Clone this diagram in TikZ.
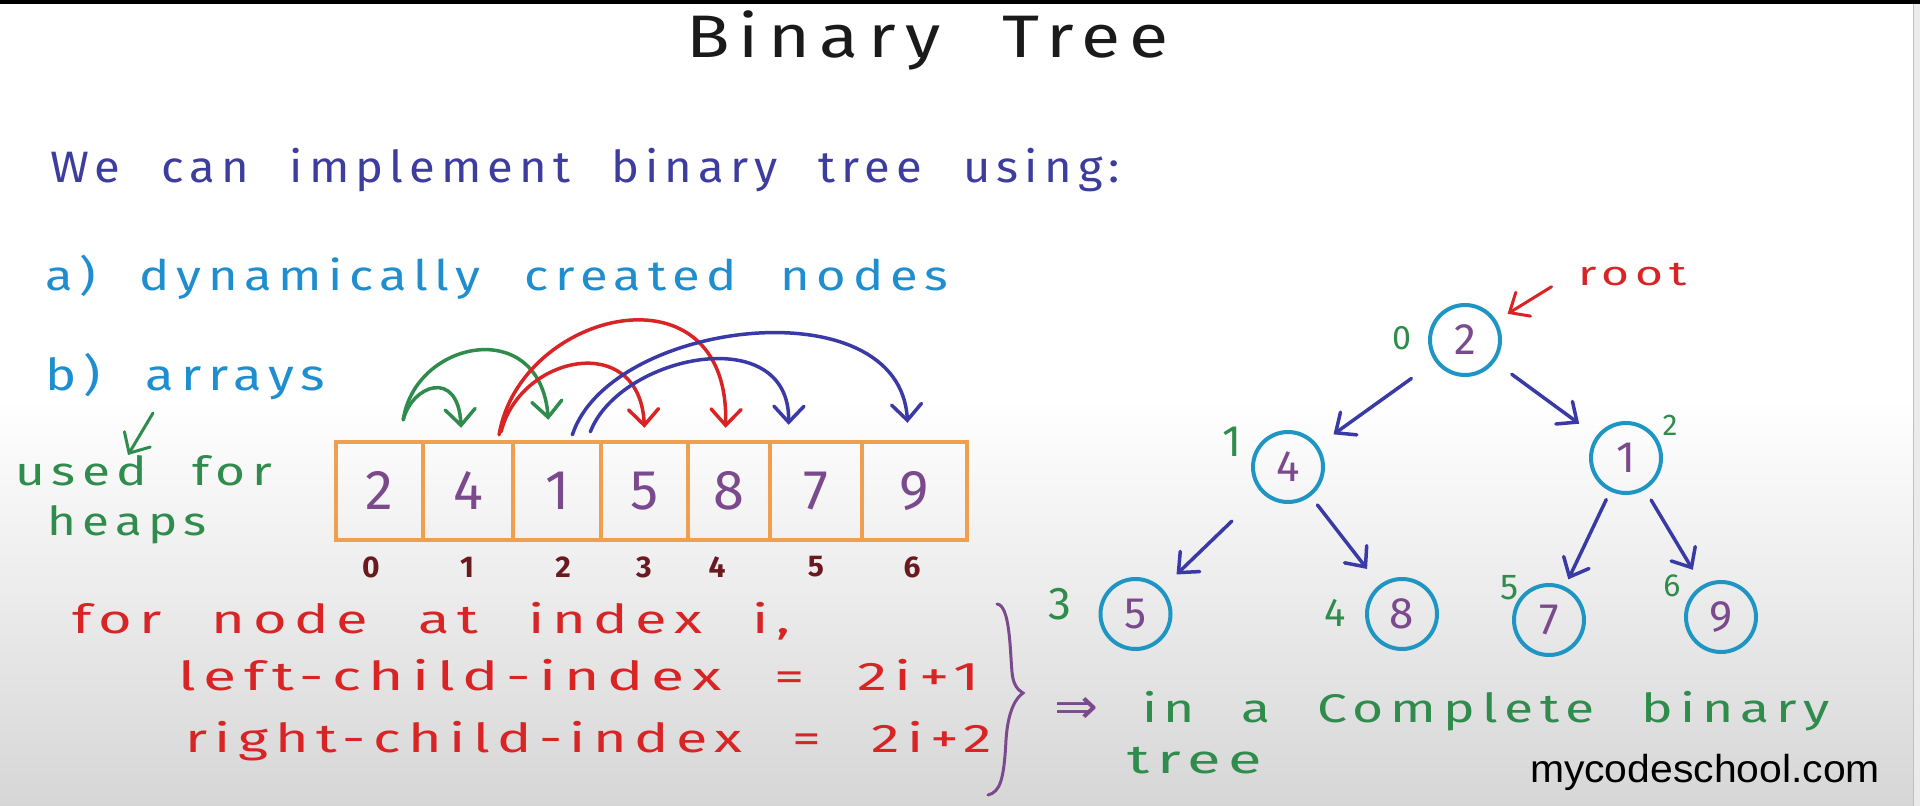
\documentclass[tikz,border=0pt]{standalone}
\usepackage{fontspec}
\usepackage{graphicx}
\setmainfont{Fira Sans}[LetterSpace=13,WordSpace=2.2]
\newfontfamily\wmfont{Liberation Sans}
\newfontfamily\digfont{Fira Sans}
\newfontfamily\symf{DejaVu Sans}
\usetikzlibrary{arrows.meta,calc}
\definecolor{ink}{HTML}{1A1A1A}
\definecolor{navy}{HTML}{3D3D9E}
\definecolor{cyanb}{HTML}{1F8ECF}
\definecolor{grn}{HTML}{2F8C4C}
\definecolor{org}{HTML}{EFA04E}
\definecolor{purp}{HTML}{7B4A8C}
\definecolor{maroon}{HTML}{6A1A1E}
\definecolor{redi}{HTML}{D82424}
\definecolor{circ}{HTML}{1E95C2}
\definecolor{edgeb}{HTML}{3A3AA6}
\newcommand{\fs}[1]{\fontsize{#1}{#1}\selectfont}
\newcommand{\hw}[3]{\resizebox{#1pt}{\height}{\fs{#2}#3}}
\begin{document}
\begin{tikzpicture}[x=1pt,y=-1pt,
  txt/.style={anchor=base west,inner sep=0pt,outer sep=0pt},
  cell/.style={draw=org,line width=4pt,minimum height=98pt,inner sep=0pt,text=purp,font=\digfont\fs{56}},
  tnode/.style={circle,draw=circ,line width=4pt,minimum size=70pt,inner sep=0pt,text=purp,font=\digfont\fs{44}},
  idx/.style={inner sep=0pt,text=maroon,font=\digfont\bfseries\fs{30}},
  tidx/.style={inner sep=0pt,text=grn},
  arr/.style={line width=3.5pt,line cap=round,-{Straight Barb[length=16pt,width=30pt,line cap=round]}},
  tarr/.style={line width=3.5pt,line cap=round,-{Straight Barb[length=16pt,width=28pt,line cap=round]}}
]
\useasboundingbox (0,0) rectangle (1920,806);
% background
\fill[white] (0,0) rectangle (1920,806);
\shade[top color=white,bottom color=black!16] (0,400) rectangle (1920,806);
\fill[black] (0,0) rectangle (1920,4);
\fill[black!8] (1913,4) rectangle (1920,806);
\draw[black!25,line width=1pt] (1913,4) -- (1913,806);

% texts
\node[txt,text=ink] (title) at (686,57) {\hw{483}{60}{Binary Tree}};
\node[txt,text=navy] (line1) at (50,182) {\hw{1070}{44}{We can implement binary tree using:}};
\node[txt,text=cyanb] (opta) at (45,290) {\hw{903}{42}{a) dynamically created nodes}};
\node[txt,text=cyanb] (optb) at (45,390) {\hw{280}{44}{b) arrays}};
\node[txt,text=grn] (used) at (15,485) {\hw{257}{40}{used for}};
\node[txt,text=grn] (heaps) at (47,535) {\hw{160}{40}{heaps}};
\draw[arr,grn,line width=3pt] ($(optb.base west)+(108,23)$) -- ($(used.base west)+(113,-30)$);

% array
\node[cell,minimum width=87.1pt] (c0) at (379.25,490.8) {\raisebox{-6pt}{2}};
\node[cell,minimum width=90.6pt] (c1) at (468.1,490.8) {\raisebox{-6pt}{4}};
\node[cell,minimum width=87.9pt] (c2) at (557.35,490.8) {\raisebox{-6pt}{1}};
\node[cell,minimum width=86.2pt] (c3) at (644.4,490.8) {\raisebox{-6pt}{5}};
\node[cell,minimum width=82.1pt] (c4) at (728.55,490.8) {\raisebox{-6pt}{8}};
\node[cell,minimum width=92pt] (c5) at (815.6,490.8) {\raisebox{-6pt}{7}};
\node[cell,minimum width=105.8pt] (c6) at (914.5,490.8) {\raisebox{-6pt}{9}};

\node[idx] (a0) at (371,567) {0};
\node[idx] (a1) at (467,567) {1};
\node[idx] (a2) at (563,567) {2};
\node[idx] (a3) at (644,567) {3};
\node[idx] (a4) at (717,567) {4};
\node[idx] (a5) at (816,567) {5};
\node[idx] (a6) at (912,567) {6};

% arcs over the array
\draw[arr,grn] ($(c0.north)+(24,-20)$) .. controls (412,385) and (458,368) .. ($(c1.north)+(-7,-12)$);
\draw[arr,grn] ($(c0.north)+(24,-20)$) .. controls (415,340) and (540,315) .. ($(c2.north)+(-9,-20)$);
\draw[arr,redi] ($(c1.north)+(31,-5)$) .. controls (520,310) and (730,260) .. ($(c4.north)+(-3,-12)$);
\draw[arr,redi] ($(c1.north)+(33,-8)$) .. controls (520,355) and (640,330) .. ($(c3.north)+(0,-12)$);
\draw[arr,edgeb] ($(c2.north)+(15,-5)$) .. controls (610,320) and (900,285) .. ($(c6.north)+(-7,-17)$);
\draw[arr,edgeb] ($(c2.north)+(33,-8)$) .. controls (620,355) and (790,320) .. ($(c5.north)+(-27,-15)$);

% tree
\node[tnode] (root) at (1465,340) {2};
\node[tnode] (n4) at (1288,467) {4};
\node[tnode] (n1) at (1626,458) {1};
\node[tnode] (n5) at (1135.5,614) {5};
\node[tnode] (n8) at (1402,614) {8};
\node[tnode] (n7) at (1549,620) {7};
\node[tnode] (n9) at (1721,617) {9};

\draw[tarr,edgeb,shorten <=29pt,shorten >=19pt] (root) -- (n4);
\draw[tarr,edgeb,shorten <=21pt,shorten >=21pt] (root) -- (n1);
\draw[tarr,edgeb,shorten <=41pt,shorten >=20pt] (n4) -- (n5);
\draw[tarr,edgeb,shorten <=11pt,shorten >=20pt] (n4) -- (n8);
\draw[tarr,edgeb,shorten <=9pt,shorten >=8pt] (n1) -- (n7);
\draw[tarr,edgeb,shorten <=12pt,shorten >=18pt] (n1) -- (n9);

\node[tidx,font=\digfont\fs{34}] (l0) at (1402,338) {0};
\node[tidx,font=\digfont\fs{44}] (l1) at (1232,442) {1};
\node[tidx,font=\digfont\fs{30}] (l2) at (1670,425) {2};
\node[tidx,font=\digfont\fs{46}] (l3) at (1060,604) {3};
\node[tidx,font=\digfont\fs{40}] (l4) at (1335,613) {4};
\node[tidx,font=\digfont\fs{36}] (l5) at (1510,588) {5};
\node[tidx,font=\digfont\fs{32}] (l6) at (1672,586) {6};

\node[txt,text=redi] (rootlbl) at (1578,285) {\hw{109}{34}{root}};
\coordinate (rs) at (1551.6,286.7);
\draw[tarr,redi,line width=3pt,shorten >=13pt] (rs) -- (root);

% formulas
\node[txt,text=redi] (f1) at (72,633) {\hw{718}{40}{for node at index i,}};
\node[txt,text=redi] (f2) at (178,690) {\hw{802}{40}{left-child-index = 2i+1}};
\node[txt,text=redi] (f3) at (185,752) {\hw{807}{40}{right-child-index = 2i+2}};

% brace
\draw[purp,line width=3pt,line cap=round] (997,604) .. controls (1010,605) and (1010,650) .. (1012,672)
  .. controls (1013,685) and (1018,690) .. (1023,693)
  .. controls (1016,698) and (1008,710) .. (1006,740)
  .. controls (1004,780) and (1000,792) .. (988,795);
\node[inner sep=0pt,text=purp] (impl) at (1076,710) {\resizebox{44pt}{26pt}{\symf\fs{40}⇒}};

\node[txt,text=grn] (conc1) at (1142,722) {\hw{688}{40}{in a Complete binary}};
\node[txt,text=grn] (conc2) at (1127,773) {\hw{135}{40}{tree}};

\node[txt,text=black] (wm) at (1530,782) {\resizebox{350pt}{\height}{\wmfont\fs{39}mycodeschool.com}};
\end{tikzpicture}
\end{document}
